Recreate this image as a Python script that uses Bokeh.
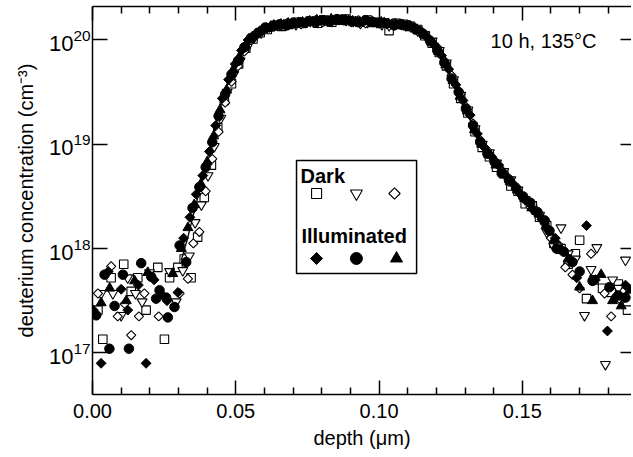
import numpy as np
from bokeh.plotting import figure
from bokeh.models import Range1d, LinearAxis, LogAxis, FixedTicker, NumeralTickFormatter, Label
from bokeh.core.properties import value
from bokeh.embed import file_html
from bokeh.resources import INLINE

# ---------------- data (log10 of deuterium concentration, cm^-3) ----------------
dark_sq_depth = [0.0019, 0.0036, 0.0065, 0.0109, 0.0135, 0.0158, 0.0187, 0.0228, 0.0251, 0.0269, 0.0298,
                 0.032, 0.0344, 0.0367, 0.039, 0.0415, 0.0437, 0.046, 0.0485, 0.051, 0.0535, 0.056, 0.0585,
                 0.061, 0.0635, 0.066, 0.0685, 0.071, 0.0735, 0.076, 0.0785, 0.081, 0.0835, 0.086, 0.0885,
                 0.091, 0.0935, 0.096, 0.0985, 0.101, 0.1035, 0.106, 0.1085, 0.111, 0.1135, 0.116, 0.1185,
                 0.121, 0.1235, 0.126, 0.1285, 0.131, 0.1335, 0.136, 0.1385, 0.141, 0.1435, 0.146, 0.1485,
                 0.151, 0.1535, 0.156, 0.1585, 0.161, 0.1635, 0.166, 0.1685, 0.170, 0.1724, 0.175, 0.178,
                 0.181, 0.1835, 0.1867]
dark_sq_log = [17.41, 17.13, 17.72, 17.85, 17.59, 17.72, 17.41, 17.82, 17.13, 17.72, 17.82,
               17.90, 17.72, 18.11, 18.49, 18.80, 19.16, 19.42, 19.58, 19.77, 19.92, 20.01, 20.07,
               20.10, 20.14, 20.13, 20.15, 20.17, 20.16, 20.18, 20.16, 20.19, 20.17, 20.19, 20.20,
               20.18, 20.17, 20.19, 20.17, 20.16, 20.09, 20.16, 20.15, 20.13, 20.10, 20.04, 19.97,
               19.88, 19.75, 19.58, 19.44, 19.30, 19.12, 18.97, 18.88, 18.78, 18.72, 18.60, 18.55,
               18.43, 18.41, 18.30, 18.22, 18.05, 18.00, 17.85, 17.95, 18.08, 17.52, 17.70, 17.62,
               17.58, 17.66, 17.41]

dark_tri_depth = [0.003, 0.0071, 0.0100, 0.0123, 0.015, 0.0173, 0.0199, 0.0269, 0.0292, 0.0315,
                  0.0338, 0.0358, 0.038, 0.0403, 0.0425, 0.0448, 0.047, 0.0493, 0.0515, 0.054, 0.0563, 0.0588,
                  0.061, 0.0635, 0.066, 0.0685, 0.071, 0.0735, 0.076, 0.0785, 0.081, 0.0835, 0.086, 0.0885,
                  0.091, 0.0935, 0.096, 0.0985, 0.101, 0.1035, 0.106, 0.1085, 0.111,
                  0.1135, 0.116, 0.1185, 0.121, 0.1235, 0.126, 0.1285, 0.131, 0.1335, 0.136, 0.1385, 0.141,
                  0.1435, 0.146, 0.1485, 0.151, 0.1535, 0.156, 0.1585, 0.161, 0.1635, 0.166, 0.1685, 0.1717,
                  0.174, 0.176, 0.179, 0.1815, 0.1835, 0.186]
dark_tri_log = [17.57, 17.57, 17.36, 17.72, 17.57, 17.49, 17.77, 17.78, 17.49, 17.79,
                17.93, 18.25, 18.42, 18.70, 18.98, 19.25, 19.50, 19.67, 19.80, 19.93, 20.02, 20.07,
                20.12, 20.14, 20.15, 20.16, 20.15, 20.17, 20.18, 20.17, 20.19, 20.18, 20.20, 20.19,
                20.18, 20.16, 20.17, 20.18, 20.15, 20.14, 20.16, 20.15, 20.13,
                20.09, 20.05, 19.99, 19.90, 19.78, 19.62, 19.47, 19.33, 19.15, 19.00, 18.92, 18.82,
                18.74, 18.66, 18.56, 18.47, 18.38, 18.32, 18.16, 18.02, 18.20, 17.95, 17.90, 17.36,
                17.80, 18.01, 16.89, 17.70, 17.62, 17.89]

dark_dia_depth = [0.0019, 0.0065, 0.0088, 0.0112, 0.0135, 0.0162, 0.0181, 0.0231, 0.0304, 0.0333,
                  0.0352, 0.0373, 0.0395, 0.0418, 0.044, 0.0463, 0.0485, 0.0508, 0.053, 0.0553, 0.0578,
                  0.0603, 0.0628, 0.0653, 0.0678, 0.0703, 0.0728, 0.0753, 0.0778, 0.0803, 0.0828, 0.0853,
                  0.0878, 0.0903, 0.0928, 0.0953, 0.0978, 0.1003, 0.1028, 0.1053, 0.1078, 0.1103,
                  0.1128, 0.1153, 0.1178, 0.1203, 0.1228, 0.1253, 0.1278, 0.1303, 0.1328, 0.1353, 0.1378,
                  0.1403, 0.1428, 0.1453, 0.1478, 0.1503, 0.1528, 0.1553, 0.1578, 0.160, 0.1625, 0.165,
                  0.1675, 0.170, 0.174, 0.1787, 0.181, 0.1845, 0.187]
dark_dia_log = [17.57, 17.83, 17.35, 17.47, 17.17, 17.35, 17.57, 17.35, 17.57, 17.71,
                18.05, 18.16, 18.55, 18.86, 19.12, 19.40, 19.60, 19.75, 19.89, 20.00, 20.06,
                20.11, 20.13, 20.14, 20.16, 20.17, 20.15, 20.18, 20.19, 20.17, 20.18, 20.20,
                20.19, 20.17, 20.19, 20.16, 20.18, 20.17, 20.15, 20.16, 20.14, 20.14,
                20.11, 20.07, 20.00, 19.93, 19.80, 19.66, 19.51, 19.36, 19.20, 19.04, 18.94,
                18.84, 18.75, 18.64, 18.57, 18.48, 18.40, 18.34, 18.24, 18.10, 18.04, 17.82,
                17.75, 17.62, 17.95, 17.57, 17.35, 17.50, 17.62]

ill_dia_depth = [0.0003, 0.003, 0.0055, 0.0100, 0.0123, 0.0160, 0.0187, 0.0215, 0.0260, 0.0298,
                 0.0318, 0.034, 0.0362, 0.0385, 0.0408, 0.043, 0.0453, 0.0475, 0.0498, 0.052, 0.0543, 0.0568,
                 0.0593, 0.0618, 0.0643, 0.0668, 0.0693, 0.0718, 0.0743, 0.0768, 0.0793, 0.0818, 0.0843,
                 0.0868, 0.0893, 0.0918, 0.0943, 0.0968, 0.0993, 0.1018, 0.1043, 0.1068, 0.1093,
                 0.1118, 0.1143, 0.1168, 0.1193, 0.1218, 0.1243, 0.1268, 0.1293, 0.1318, 0.1343, 0.1368,
                 0.1393, 0.1418, 0.1443, 0.1468, 0.1493, 0.1518, 0.1543, 0.1568, 0.159, 0.1615, 0.164,
                 0.1665, 0.169, 0.1724, 0.1755, 0.1797, 0.183, 0.186]
ill_dia_log = [17.41, 16.90, 17.78, 17.61, 17.41, 17.65, 16.90, 17.70, 17.50, 17.58,
               18.10, 18.30, 18.52, 18.70, 18.93, 19.18, 19.44, 19.62, 19.77, 19.90, 20.00, 20.05,
               20.10, 20.12, 20.14, 20.15, 20.16, 20.17, 20.16, 20.18, 20.19, 20.18, 20.19,
               20.20, 20.19, 20.18, 20.18, 20.17, 20.16, 20.17, 20.15, 20.15, 20.13,
               20.12, 20.09, 20.03, 19.95, 19.85, 19.72, 19.57, 19.42, 19.28, 19.10, 18.97,
               18.88, 18.80, 18.70, 18.62, 18.52, 18.45, 18.36, 18.28, 18.18, 18.10, 17.98,
               17.90, 17.72, 18.22, 17.70, 17.21, 17.55, 17.65]

ill_cir_depth = [0.0013, 0.0042, 0.0059, 0.0077, 0.0106, 0.0127, 0.0170, 0.0205, 0.0222, 0.0234, 0.0257,
                 0.0263, 0.0286, 0.0304, 0.0327, 0.0349, 0.0373, 0.0395, 0.0418, 0.044, 0.0463, 0.0485,
                 0.0508, 0.053, 0.0553, 0.0578,
                 0.0603, 0.0628, 0.0653, 0.0678, 0.0703, 0.0728, 0.0753, 0.0778, 0.0803, 0.0828, 0.0853,
                 0.0878, 0.0903, 0.0928, 0.0953, 0.0978, 0.1003, 0.1028, 0.1053, 0.1078, 0.1103,
                 0.1128, 0.1153, 0.1178, 0.1203, 0.1228, 0.1253, 0.1278, 0.1303, 0.1328, 0.1353, 0.1378,
                 0.1403, 0.1428, 0.1453, 0.1478, 0.1503, 0.1528, 0.1553, 0.1578, 0.1595, 0.162, 0.1645,
                 0.1675, 0.170, 0.1745, 0.1804, 0.1835, 0.186]
ill_cir_log = [17.36, 17.75, 17.04, 17.45, 17.75, 17.04, 17.86, 17.73, 17.52, 17.60, 17.53,
               17.34, 17.44, 18.03, 17.87, 18.39, 18.59, 18.78, 19.02, 19.27, 19.48, 19.67,
               19.80, 19.93, 20.02, 20.07,
               20.12, 20.13, 20.15, 20.14, 20.16, 20.17, 20.18, 20.17, 20.19, 20.18, 20.20,
               20.19, 20.18, 20.17, 20.19, 20.17, 20.16, 20.16, 20.14, 20.15, 20.14,
               20.10, 20.06, 19.99, 19.90, 19.78, 19.63, 19.50, 19.34, 19.18, 19.02, 18.91,
               18.83, 18.72, 18.66, 18.58, 18.50, 18.44, 18.35, 18.27, 18.17, 18.00, 17.97,
               17.87, 17.78, 17.69, 17.63, 17.55, 17.53]

ill_tri_depth = [0.0030, 0.0060, 0.0118, 0.0147, 0.0193, 0.0245, 0.028,
                 0.031, 0.0333, 0.0355, 0.0378, 0.04, 0.0423, 0.0445, 0.0468, 0.049, 0.0513, 0.0535,
                 0.0558, 0.0583,
                 0.0608, 0.0633, 0.0658, 0.0683, 0.0708, 0.0733, 0.0758, 0.0783, 0.0808, 0.0833, 0.0858,
                 0.0883, 0.0908, 0.0933, 0.0958, 0.0983, 0.1008, 0.1033, 0.1058, 0.1083, 0.1108,
                 0.1133, 0.1158, 0.1183, 0.1208, 0.1233, 0.1258, 0.1283, 0.1308, 0.1333, 0.1358, 0.1383,
                 0.1408, 0.1433, 0.1458, 0.1483, 0.1508, 0.1533, 0.1558, 0.1583, 0.161, 0.1635, 0.166,
                 0.170, 0.1745, 0.1775, 0.1815, 0.1845, 0.1875]
ill_tri_log = [17.48, 17.62, 17.50, 17.69, 17.77, 17.55, 17.76,
               18.00, 18.20, 18.42, 18.62, 18.83, 19.08, 19.33, 19.52, 19.71, 19.84, 19.95,
               20.03, 20.08,
               20.11, 20.14, 20.15, 20.16, 20.15, 20.17, 20.18, 20.19, 20.18, 20.20, 20.18,
               20.19, 20.18, 20.17, 20.18, 20.16, 20.17, 20.15, 20.15, 20.14, 20.13,
               20.10, 20.05, 19.98, 19.89, 19.76, 19.61, 19.46, 19.32, 19.14, 19.00, 18.90,
               18.80, 18.73, 18.64, 18.56, 18.48, 18.39, 18.33, 18.22, 18.08, 17.98, 17.90,
               17.63, 17.50, 17.75, 17.50, 17.45, 17.60]

fit_depth = [0.031, 0.033, 0.035, 0.037, 0.039, 0.041, 0.043, 0.045, 0.047, 0.049, 0.051, 0.053, 0.055,
             0.058, 0.062, 0.070, 0.080, 0.090, 0.100, 0.108, 0.112, 0.116, 0.120, 0.124, 0.128, 0.132,
             0.136, 0.140, 0.145, 0.150, 0.155, 0.160, 0.165]
fit_log = [17.89, 18.08, 18.30, 18.52, 18.74, 18.96, 19.18, 19.40, 19.58, 19.72, 19.84, 19.94, 20.01,
           20.08, 20.12, 20.155, 20.17, 20.18, 20.175, 20.16, 20.13, 20.05, 19.92, 19.72, 19.48, 19.22,
           18.99, 18.82, 18.65, 18.50, 18.35, 18.17, 17.98]

x_major = [0.0, 0.05, 0.10, 0.15]
x_minor = [0.01, 0.02, 0.03, 0.04, 0.06, 0.07, 0.08, 0.09, 0.11, 0.12, 0.13, 0.14, 0.16, 0.17, 0.18]
y_major = [1e17, 1e18, 1e19, 1e20]

# ---------------- figure ----------------
FONT = "Liberation Sans"

def c(logs):
    return [10.0 ** v for v in logs]

p = figure(frame_width=539, frame_height=388, x_range=Range1d(0.0, 0.1881),
           y_range=Range1d(10 ** 16.601, 10 ** 20.321), y_axis_type="log",
           output_backend="svg", toolbar_location=None,
           min_border_left=92, min_border_right=0, min_border_top=6, min_border_bottom=0)
p.grid.visible = False
p.outline_line_color = None
p.background_fill_color = "white"
p.border_fill_color = "white"

def style_axis(ax, labels=True):
    ax.axis_line_color = "black"
    ax.axis_line_width = 1.5
    ax.major_tick_line_color = "black"
    ax.major_tick_line_width = 1.5
    ax.minor_tick_line_color = "black"
    ax.minor_tick_line_width = 1.5
    ax.major_tick_in = 14
    ax.major_tick_out = 0
    ax.minor_tick_in = 7
    ax.minor_tick_out = 0
    if labels:
        ax.major_label_text_font = FONT
        ax.major_label_text_color = "black"
    else:
        ax.major_label_text_font_size = "1px"
        ax.major_label_text_color = None
        ax.major_label_standoff = 0

xb = p.xaxis[0]
xb.ticker = FixedTicker(ticks=x_major, minor_ticks=x_minor)
xb.formatter = NumeralTickFormatter(format="0.00")
style_axis(xb)
xb.major_label_text_font_size = "20px"
xb.major_label_standoff = 9
xb.axis_label = "depth (μm)"
xb.axis_label_text_font = FONT
xb.axis_label_text_font_size = "20px"
xb.axis_label_text_font_style = "normal"
xb.axis_label_text_color = "black"
xb.axis_label_standoff = 6

yl = p.yaxis[0]
yl.ticker = FixedTicker(ticks=y_major, minor_ticks=[])
style_axis(yl)
yl.major_tick_in = 15
yl.major_label_text_font_size = "22px"
yl.major_label_standoff = 2
yl.axis_label = "deuterium concentration (cm⁻³)"
yl.axis_label_text_font = FONT
yl.axis_label_text_font_size = "20px"
yl.axis_label_text_font_style = "normal"
yl.axis_label_text_color = "black"
yl.axis_label_standoff = 9

xt = LinearAxis(ticker=FixedTicker(ticks=x_major, minor_ticks=x_minor))
style_axis(xt, labels=False)
p.add_layout(xt, "above")

yr = LogAxis(ticker=FixedTicker(ticks=y_major, minor_ticks=[]))
style_axis(yr, labels=False)
yr.axis_line_color = None
yr.major_tick_in = 11
p.add_layout(yr, "right")

# ---------------- data marks ----------------
S_OPEN = dict(line_color="black", line_width=1.1, fill_color="white")
S_FILL = dict(line_color="black", line_width=1, fill_color="black")

p.scatter(dark_sq_depth, c(dark_sq_log), marker="square", size=8.5, **S_OPEN)
p.scatter(dark_tri_depth, c(dark_tri_log), marker="inverted_triangle", size=10, **S_OPEN)
p.scatter(dark_dia_depth, c(dark_dia_log), marker="square", angle=np.pi / 4, size=6.5, **S_OPEN)
p.scatter(ill_dia_depth, c(ill_dia_log), marker="square", angle=np.pi / 4, size=7, **S_FILL)
p.scatter(ill_cir_depth, c(ill_cir_log), marker="circle", size=9.5, **S_FILL)
p.scatter(ill_tri_depth, c(ill_tri_log), marker="triangle", size=10, **S_FILL)
p.line(fit_depth, c(fit_log), line_color="black", line_width=1.3)

# ---------------- annotation ----------------
p.add_layout(Label(x=0.1574, y=10 ** 19.986, text="10 h, 135°C", text_font=FONT,
                   text_font_size="20px", text_align="center", text_baseline="middle",
                   text_color="black"))

# ---------------- legend box ----------------
p.quad(left=[0.0712], right=[0.1131], top=[10 ** 18.845], bottom=[10 ** 17.761],
       fill_color="white", line_color="black", line_width=1.5)
p.text(x=[0.0726], y=[10 ** 18.70], text=["Dark"], text_font=value(FONT), text_font_size="20px",
       text_font_style="bold", text_baseline="middle", text_align="left", text_color="black")
p.text(x=[0.0729], y=[10 ** 18.12], text=["Illuminated"], text_font=value(FONT),
       text_font_size="20px", text_font_style="bold", text_baseline="middle",
       text_align="left", text_color="black")
p.scatter([0.0782], [10 ** 18.528], marker="square", size=10, **S_OPEN)
p.scatter([0.0921], [10 ** 18.528], marker="inverted_triangle", size=12, **S_OPEN)
p.scatter([0.1054], [10 ** 18.528], marker="square", angle=np.pi / 4, size=8, **S_OPEN)
p.scatter([0.0782], [10 ** 17.905], marker="square", angle=np.pi / 4, size=8.5, **S_FILL)
p.scatter([0.0921], [10 ** 17.905], marker="circle", size=12, **S_FILL)
p.scatter([0.1061], [10 ** 17.905], marker="triangle", size=12, **S_FILL)

open("out.html", "w").write(file_html(p, INLINE))
